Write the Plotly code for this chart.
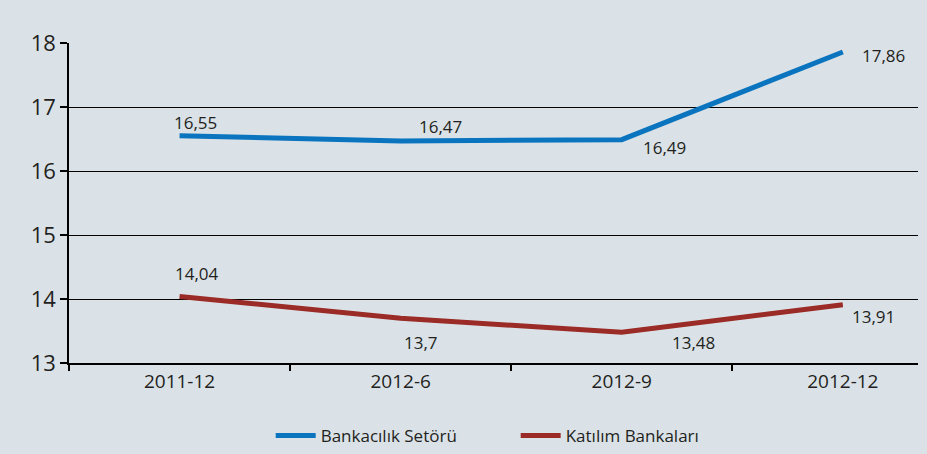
import plotly.graph_objects as go

# Data
periods = ["2011-12", "2012-6", "2012-9", "2012-12"]
bank_sector = [16.55, 16.47, 16.49, 17.86]
participation = [14.04, 13.70, 13.48, 13.91]
bank_labels = ["16,55", "16,47", "16,49", "17,86"]
part_labels = ["14,04", "13,7", "13,48", "13,91"]

# label offsets in px (dx, dy) relative to each point
bank_offsets = [(16, -13), (40, -14), (43, 8), (41, 4)]
part_offsets = [(17, -23), (20, 24), (72, 10), (31, 12)]

BG = "#DAE2E8"
BLUE = "#0A74BE"
RED = "#9A2B26"
INK = "#231F20"
FONT = "Open Sans, Noto Sans, sans-serif"

fig = go.Figure()
fig.add_trace(go.Scatter(
    x=periods, y=bank_sector, mode="lines", name="Bankacılık Setörü",
    line=dict(color=BLUE, width=5),
))
fig.add_trace(go.Scatter(
    x=periods, y=participation, mode="lines", name="Katılım Bankaları",
    line=dict(color=RED, width=5),
))

for xs, ys, labels, offs in ((periods, bank_sector, bank_labels, bank_offsets),
                             (periods, participation, part_labels, part_offsets)):
    for x, y, lab, (dx, dy) in zip(xs, ys, labels, offs):
        fig.add_annotation(x=x, y=y, text=lab, showarrow=False,
                           xshift=dx, yshift=-dy,
                           font=dict(family=FONT, size=17, color=INK))

fig.update_layout(
    width=927, height=454,
    paper_bgcolor=BG, plot_bgcolor=BG,
    margin=dict(l=69, r=9, t=43, b=91, autoexpand=False),
    font=dict(family=FONT, color=INK),
    showlegend=True,
    legend=dict(orientation="h", xref="container", x=0.292, xanchor="left",
                yref="container", y=0.04, yanchor="middle",
                font=dict(size=17, color=INK), bgcolor="rgba(0,0,0,0)",
                itemwidth=40, entrywidth=190, tracegroupgap=0),
    hovermode=False,
)
fig.update_xaxes(
    type="category",
    range=[-0.5, 3.34], tickson="boundaries", ticks="outside", ticklen=6,
    tickcolor="black", tickwidth=1.5, showgrid=False,
    showline=True, linecolor="black", linewidth=1.5,
    tickfont=dict(size=19, color=INK),
)
fig.update_yaxes(
    range=[13, 18], dtick=1, ticks="outside", ticklen=7,
    tickcolor="black", tickwidth=1.5,
    showgrid=True, gridcolor="black", gridwidth=1.2, zeroline=False,
    showline=True, linecolor="black", linewidth=1.5,
    tickfont=dict(size=22, color=INK),
)

fig.write_html("out.html", config={"displayModeBar": False},
               post_script="document.body.style.margin='0';")
